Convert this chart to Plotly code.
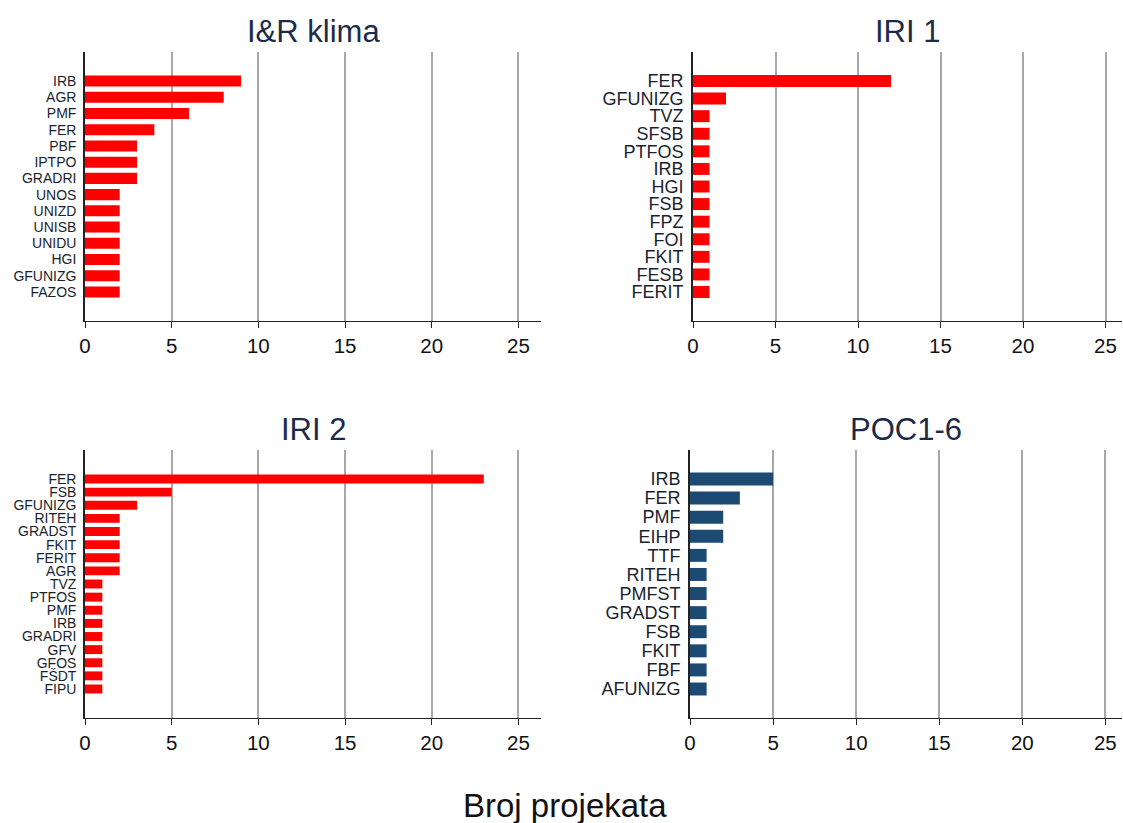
import plotly.graph_objects as go

# ---- data ----
titles = ["I&R klima", "IRI 1", "IRI 2", "POC1-6"]

cats_ir = ["IRB", "AGR", "PMF", "FER", "PBF", "IPTPO", "GRADRI", "UNOS", "UNIZD",
           "UNISB", "UNIDU", "HGI", "GFUNIZG", "FAZOS"]
vals_ir = [9, 8, 6, 4, 3, 3, 3, 2, 2, 2, 2, 2, 2, 2]

cats_iri1 = ["FER", "GFUNIZG", "TVZ", "SFSB", "PTFOS", "IRB", "HGI", "FSB", "FPZ",
             "FOI", "FKIT", "FESB", "FERIT"]
vals_iri1 = [12, 2, 1, 1, 1, 1, 1, 1, 1, 1, 1, 1, 1]

cats_iri2 = ["FER", "FSB", "GFUNIZG", "RITEH", "GRADST", "FKIT", "FERIT", "AGR", "TVZ",
             "PTFOS", "PMF", "IRB", "GRADRI", "GFV", "GFOS", "FŠDT", "FIPU"]
vals_iri2 = [23, 5, 3, 2, 2, 2, 2, 2, 1, 1, 1, 1, 1, 1, 1, 1, 1]

cats_poc = ["IRB", "FER", "PMF", "EIHP", "TTF", "RITEH", "PMFST", "GRADST", "FSB",
            "FKIT", "FBF", "AFUNIZG"]
vals_poc = [5, 3, 2, 2, 1, 1, 1, 1, 1, 1, 1, 1]

x_ticks = [0, 5, 10, 15, 20, 25]
x_title = "Broj projekata"

RED = "#ff0000"
NAVY = "#1d4a73"

# body margin is removed by post_script, so the figure fills the window
W, H = 1123, 823


def fx(px):
    return px / W


def fy(py):
    return 1 - py / H


panels = [
    dict(cats=cats_ir, vals=vals_ir, color=RED, px=(85, 541), py=(52, 321), xmax=26.3, yfont=14),
    dict(cats=cats_iri1, vals=vals_iri1, color=RED, px=(693, 1122), py=(52, 321), xmax=26.0, yfont=18),
    dict(cats=cats_iri2, vals=vals_iri2, color=RED, px=(85, 541), py=(450, 718), xmax=26.3, yfont=14),
    dict(cats=cats_poc, vals=vals_poc, color=NAVY, px=(690, 1122), py=(450, 718), xmax=26.0, yfont=18),
]

fig = go.Figure()
layout = dict(
    width=W, height=H,
    margin=dict(l=0, r=0, t=0, b=0, autoexpand=False),
    paper_bgcolor="white", plot_bgcolor="white",
    showlegend=False,
    font=dict(family="Liberation Sans, Arial, sans-serif", color="#111"),
    annotations=[],
)

for i, p in enumerate(panels):
    k = "" if i == 0 else str(i + 1)
    n = len(p["cats"])
    ph = p["py"][1] - p["py"][0]
    pad_px = 29
    step = (ph - 2 * pad_px) / (n - 1)
    pad = pad_px / step
    fig.add_trace(go.Bar(
        x=p["vals"], y=p["cats"], orientation="h",
        marker=dict(color=p["color"], line=dict(width=0)),
        width=0.68,
        xaxis="x" + k, yaxis="y" + k,
        hoverinfo="x+y",
    ))
    xd = [fx(p["px"][0]), fx(p["px"][1])]
    yd = [fy(p["py"][1]), fy(p["py"][0])]
    layout["xaxis" + k] = dict(
        domain=xd, anchor="y" + k, range=[0, p["xmax"]], automargin=False,
        tickmode="array", tickvals=x_ticks, ticks="outside", ticklen=6,
        tickcolor="#222", tickwidth=1,
        showgrid=True, gridcolor="#a8a8a8", gridwidth=1.6,
        showline=True, linecolor="#222", linewidth=1.2,
        zeroline=False, ticklabeloverflow="allow",
        tickfont=dict(size=20.5, color="#111"),
    )
    layout["yaxis" + k] = dict(
        domain=yd, anchor="x" + k, automargin=False,
        type="category", categoryorder="array", categoryarray=p["cats"],
        tickmode="array", tickvals=p["cats"], ticktext=p["cats"],
        range=[n - 1 + pad, -pad],
        showgrid=False, ticks="", showline=True, linecolor="#222", linewidth=1.6,
        tickfont=dict(size=p["yfont"], color="#1a1f2e"),
        ticklabelstandoff=4,
    )
    layout["annotations"].append(dict(
        text=titles[i], xref="paper", yref="paper",
        x=(xd[0] + xd[1]) / 2, y=fy(p["py"][0] - 20),
        xanchor="center", yanchor="middle", showarrow=False,
        font=dict(size=31, color="#1c2b4a"),
    ))

layout["annotations"].append(dict(
    text=x_title, xref="paper", yref="paper",
    x=fx(565), y=fy(805), xanchor="center", yanchor="middle",
    showarrow=False, font=dict(size=33, color="#111"),
))

fig.update_layout(**layout)
fig.write_html(
    "out.html",
    config={"displayModeBar": False},
    post_script="document.body.style.margin='0';document.body.style.overflow='hidden';",
)
